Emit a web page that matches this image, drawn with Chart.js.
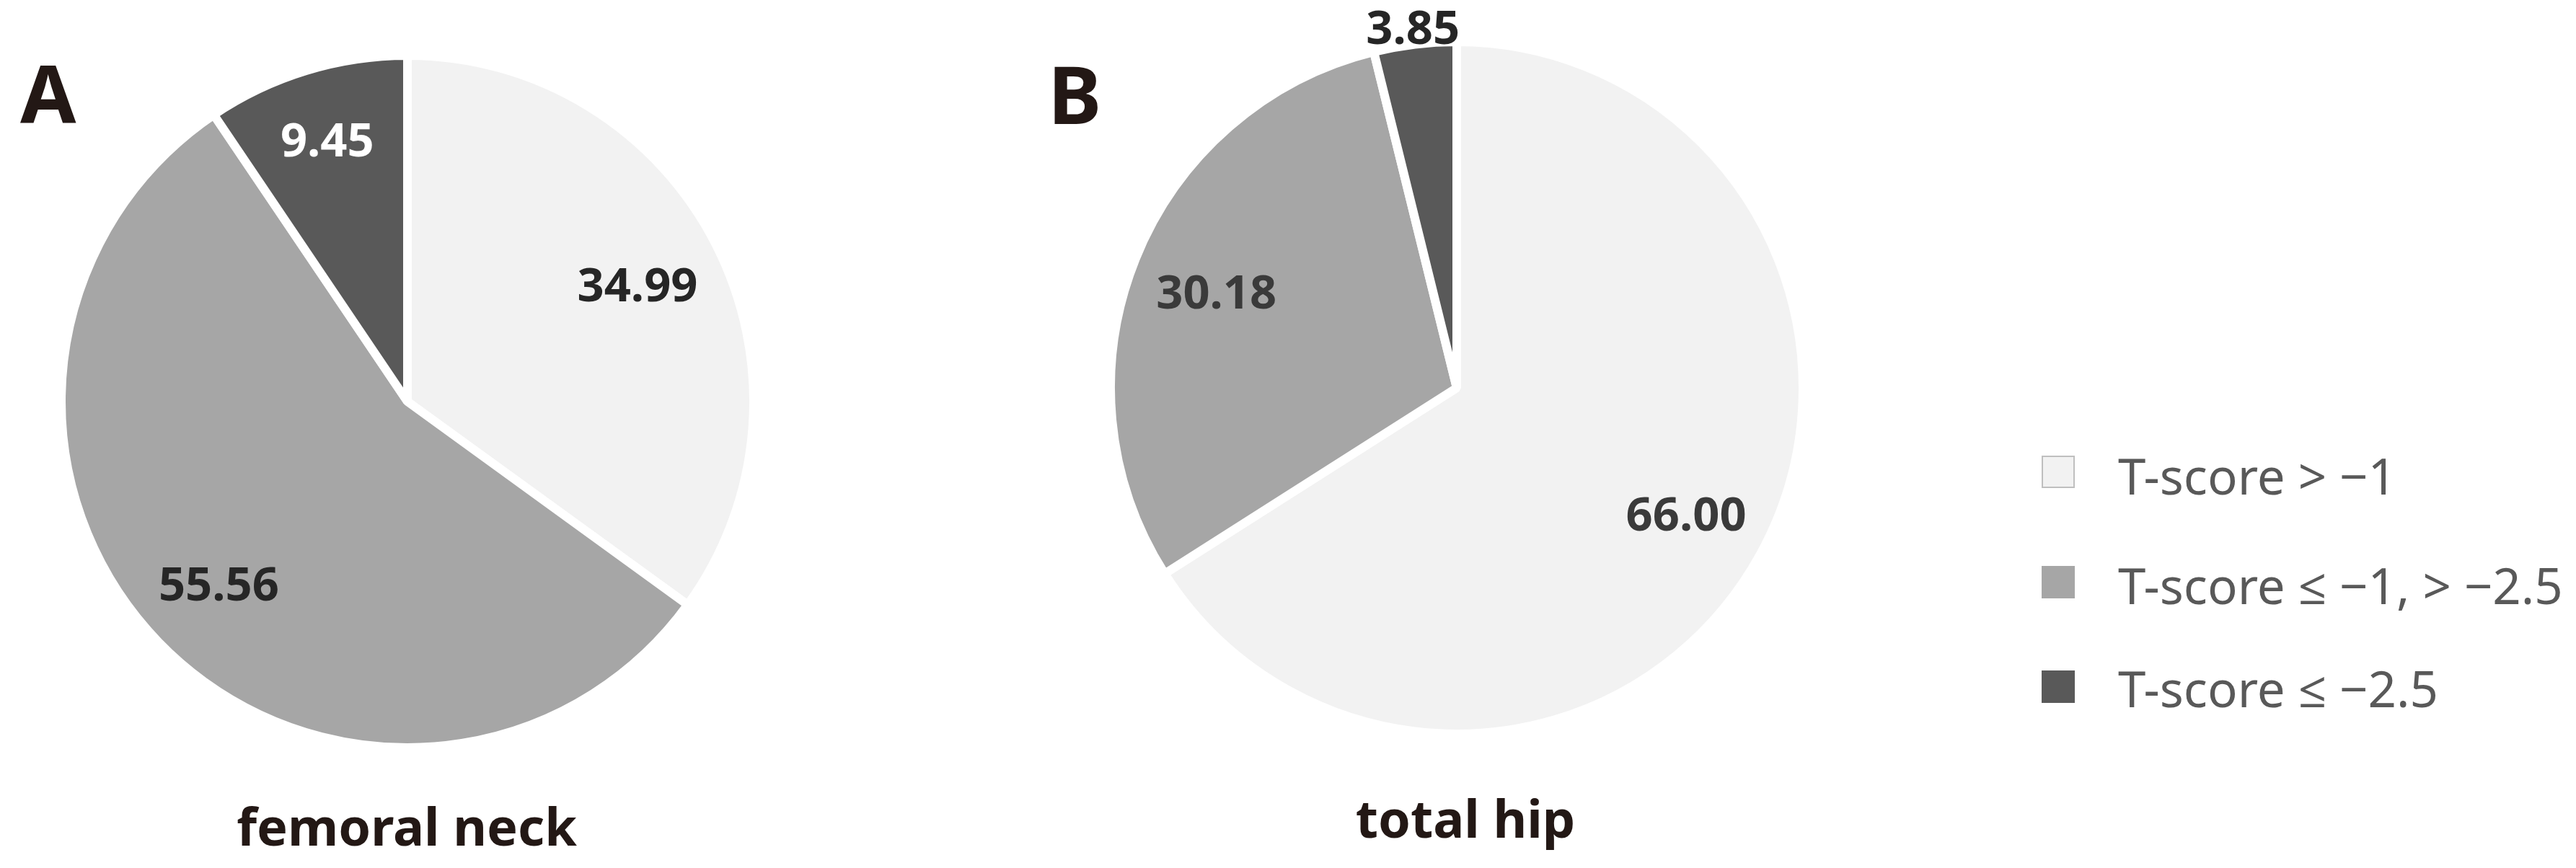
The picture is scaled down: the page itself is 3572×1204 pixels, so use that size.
<!DOCTYPE html>
<html>
<head>
<meta charset="utf-8">
<script src="https://cdn.jsdelivr.net/npm/chart.js@4/dist/chart.umd.min.js"></script>
<style>
  html, body { margin: 0; padding: 0; background: #ffffff; }
  body { width: 3572px; height: 1204px; position: relative; overflow: hidden; font-family: "Noto Sans", "Open Sans", sans-serif; }
  .abs { position: absolute; white-space: nowrap; line-height: 1; }
  .letter { font-weight: 700; font-size: 112px; color: #231815; }
  .title { font-weight: 700; font-size: 72px; color: #231815; text-align: center; width: 700px; }
  .legtext { font-size: 69px; color: #595959; }
  .legbox { position: absolute; width: 46px; height: 45px; box-sizing: border-box; }
  canvas { position: absolute; }
</style>
</head>
<body>
<canvas id="pieA" width="972" height="972" style="left:79px;top:71px;"></canvas>
<canvas id="pieB" width="972" height="1024" style="left:1534px;top:0px;"></canvas>
<div id="overlay"></div>
<script>
// ---- data ----
const categories = ['T-score > \u22121', 'T-score \u2264 \u22121, > \u22122.5', 'T-score \u2264 \u22122.5'];
const femoralNeck = [34.99, 55.56, 9.45];
const totalHip = [66.00, 30.18, 3.85];
const panelLetters = ['A', 'B'];
const panelTitles = ['femoral neck', 'total hip'];

// ---- style ----
const sliceColors = ['#f2f2f2', '#a6a6a6', '#595959'];
const labelFont = 65;

function makeLabelPlugin(radii, colors) {
  return {
    id: 'sliceLabels',
    afterDatasetsDraw(chart) {
      const ctx = chart.ctx;
      const meta = chart.getDatasetMeta(0);
      const values = chart.data.datasets[0].data;
      ctx.save();
      ctx.font = 'bold ' + labelFont + 'px "Noto Sans", "Open Sans", sans-serif';
      ctx.textAlign = 'center';
      ctx.textBaseline = 'alphabetic';
      meta.data.forEach((arc, i) => {
        const p = arc.getProps(['x', 'y', 'startAngle', 'endAngle', 'outerRadius'], true);
        const mid = (p.startAngle + p.endAngle) / 2;
        const r = p.outerRadius * radii[i];
        const cx = p.x + Math.cos(mid) * r;
        const cy = p.y + Math.sin(mid) * r;
        ctx.fillStyle = colors[i];
        ctx.fillText(Number(values[i]).toFixed(2), cx, cy + labelFont * 0.357);
      });
      ctx.restore();
    }
  };
}

function makePie(id, values, radii, colors, padTop) {
  return new Chart(document.getElementById(id), {
    type: 'pie',
    data: {
      labels: categories,
      datasets: [{
        data: values,
        backgroundColor: sliceColors,
        borderColor: '#ffffff',
        borderWidth: 12,
        borderAlign: 'center'
      }]
    },
    options: {
      responsive: false,
      animation: false,
      devicePixelRatio: 1,
      layout: { padding: { top: padTop, left: 0, right: 0, bottom: 0 } },
      plugins: { legend: { display: false }, tooltip: { enabled: false } }
    },
    plugins: [makeLabelPlugin(radii, colors)]
  });
}

makePie('pieA', femoralNeck, [0.746, 0.758, 0.792], ['#262626', '#262626', '#ffffff'], 0);
makePie('pieB', totalHip, [0.756, 0.748, 1.05], ['#3a3a3a', '#3a3a3a', '#262626'], 52);

// ---- HTML texts: panel letters, titles, legend ----
const overlay = document.getElementById('overlay');
function addDiv(cls, text, left, top) {
  const d = document.createElement('div');
  d.className = 'abs ' + cls;
  d.textContent = text;
  d.style.left = left + 'px';
  d.style.top = top + 'px';
  overlay.appendChild(d);
  return d;
}
addDiv('letter', panelLetters[0], 28, 72);
addDiv('letter', panelLetters[1], 1453, 73);
addDiv('title', panelTitles[0], 564 - 350, 1109);
addDiv('title', panelTitles[1], 2032 - 350, 1098);

const legTextTops = [625, 777, 920];
const legBoxTops = [632, 785, 930];
categories.forEach((c, i) => {
  const b = document.createElement('div');
  b.className = 'legbox';
  b.style.left = '2831px';
  b.style.top = legBoxTops[i] + 'px';
  b.style.background = sliceColors[i];
  if (i === 0) b.style.border = '2px solid #bfbfbf';
  overlay.appendChild(b);
  addDiv('legtext', c, 2937, legTextTops[i]);
});
</script>
</body>
</html>
